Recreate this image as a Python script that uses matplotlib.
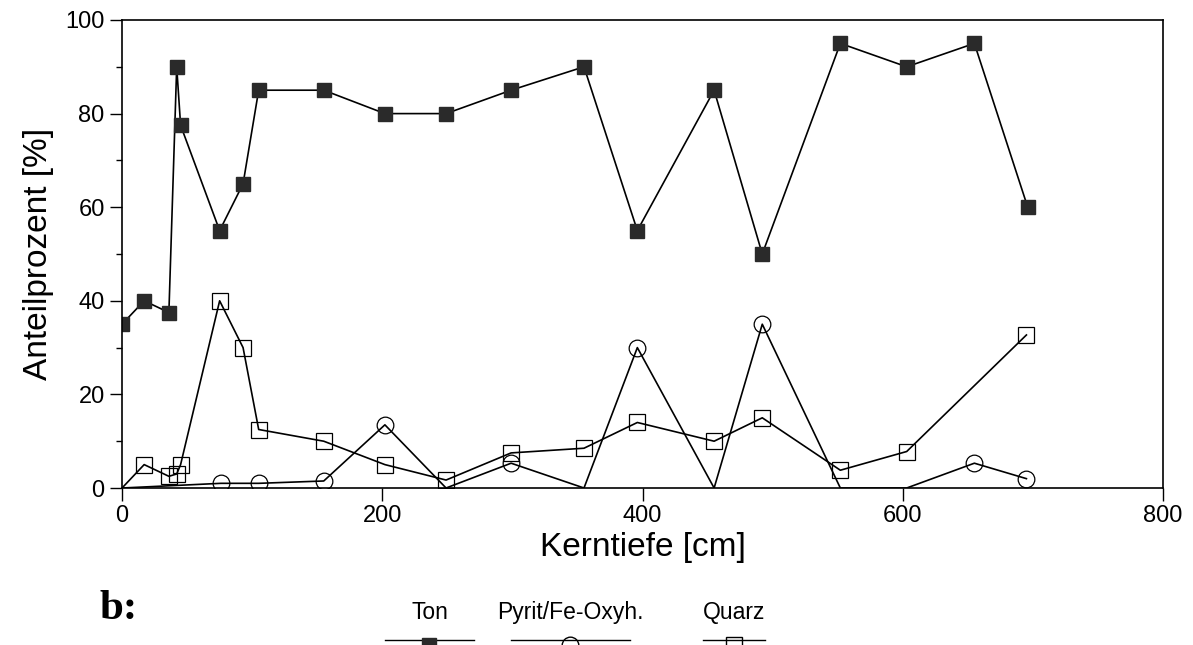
import numpy as np
import matplotlib.pyplot as plt
from matplotlib.lines import Line2D
from matplotlib.ticker import MultipleLocator

plt.rcParams['font.family'] = ['Liberation Sans', 'DejaVu Sans']

# -----------------------------
# Data
depth_ton = [0, 17, 36, 42, 45, 75, 93, 105, 155, 202, 249, 299, 355, 396, 455, 492, 552, 603, 655, 696]
ton = [35, 40, 37.5, 90, 77.5, 55, 65, 85, 85, 80, 80, 85, 90, 55, 85, 50, 95, 90, 95, 60]

depth_pyrit = [0, 76, 105, 155, 202, 249, 299, 355, 396, 455, 492, 552, 603, 655, 695]
pyrit = [0, 1, 1, 1.5, 13.5, 0, 5.3, 0, 30, 0, 35, 0, 0, 5.3, 2]

depth_quarz = [0, 17, 36, 42, 45, 75, 93, 105, 155, 202, 249, 299, 355, 396, 455, 492, 552, 603, 695]
quarz = [0, 5, 2.5, 3, 5, 40, 30, 12.5, 10, 5, 1.7, 7.5, 8.5, 14, 10, 15, 3.8, 7.8, 32.7]

legend_labels = ['Ton', 'Pyrit/Fe-Oxyh.', 'Quarz']
# -----------------------------

fig = plt.figure(figsize=(11.93, 6.45), dpi=100)
ax = fig.add_axes([0.1023, 0.2434, 0.8726, 0.7256])

ax.plot(depth_ton, ton, color='black', lw=1.2, marker='s', ms=10,
        mfc='#2a2a2a', mec='#2a2a2a')
py = np.array(pyrit)
ax.plot(depth_pyrit, pyrit, color='black', lw=1.2, marker='o', ms=12,
        mfc='none', mec='black', mew=0.9, markevery=list(py > 0))
qz = np.array(quarz)
ax.plot(depth_quarz, quarz, color='black', lw=1.2, marker='s', ms=11,
        mfc='none', mec='black', mew=0.9, markevery=list(qz > 0))

ax.set_xlim(0, 800)
ax.set_ylim(0, 100)
ax.xaxis.set_major_locator(MultipleLocator(200))
ax.yaxis.set_major_locator(MultipleLocator(20))
ax.yaxis.set_minor_locator(MultipleLocator(10))
ax.tick_params(axis='both', which='major', direction='out', length=9, width=1,
               labelsize=17)
ax.tick_params(axis='y', which='minor', direction='out', length=4, width=1)
for s in ax.spines.values():
    s.set_linewidth(1.2)

ax.set_xlabel('Kerntiefe [cm]', fontsize=24, labelpad=3)
ax.set_ylabel('Anteilprozent [%]', fontsize=24, labelpad=8)

# bottom legend: label above a short line sample
fig.text(0.083, 0.04, 'b:', fontsize=31, fontweight='bold', family='Liberation Serif')

leg_x = [0.36, 0.478, 0.615]
leg_half = [0.037, 0.05, 0.026]
styles = [dict(marker='s', ms=10, mfc='#2a2a2a', mec='#2a2a2a'),
          dict(marker='o', ms=12, mfc='none', mec='black'),
          dict(marker='s', ms=11, mfc='none', mec='black')]
for lx, hw, lab, st in zip(leg_x, leg_half, legend_labels, styles):
    fig.text(lx, 0.04, lab, fontsize=16.5, ha='center')
    fig.add_artist(Line2D([lx - hw, lx + hw], [0.008, 0.008], color='black', lw=1,
                          transform=fig.transFigure))
    fig.add_artist(Line2D([lx], [0.0], color='black', lw=0,
                          transform=fig.transFigure, **st))

fig.savefig('out.png', dpi=100)
